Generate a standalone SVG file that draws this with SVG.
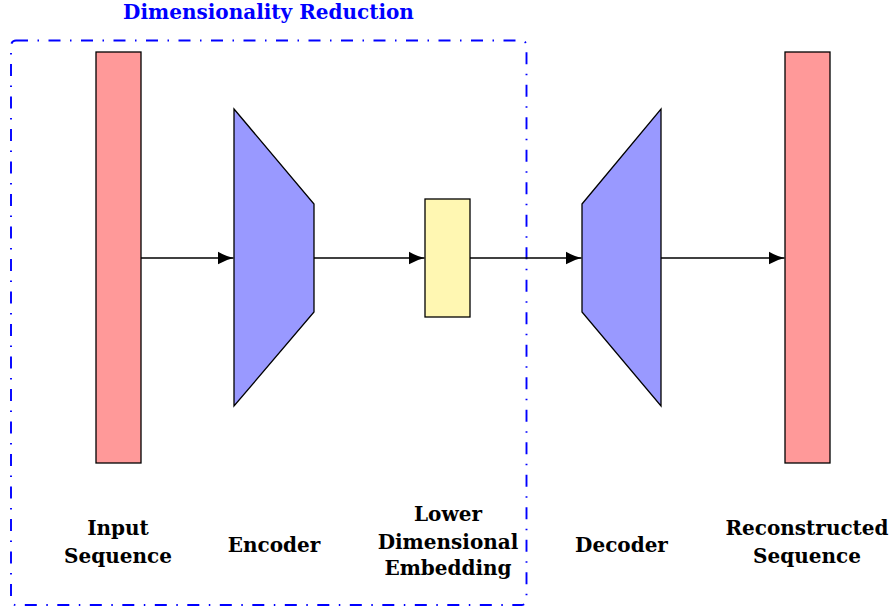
<svg xmlns="http://www.w3.org/2000/svg" width="891" height="610" viewBox="0 0 891 610">
<style>
.lbl{font-family:"DejaVu Serif","Liberation Serif",serif;font-weight:bold;font-size:20px;fill:#000;text-anchor:middle}
.title{font-family:"DejaVu Serif","Liberation Serif",serif;font-weight:bold;font-size:20px;fill:#0000ff;text-anchor:middle}
.blk{stroke:#000;stroke-width:1.3}
.conn{stroke:#000;stroke-width:1.3;fill:none}
</style>
<defs>
<marker id="arr" viewBox="0 0 16 14" refX="16" refY="7" markerWidth="16" markerHeight="14" markerUnits="userSpaceOnUse" orient="auto">
<path d="M0,0.5 Q8,5.2 16,7 Q8,8.8 0,13.5 Z" fill="#000"/>
</marker>
</defs>
<rect width="891" height="610" fill="#fff"/>
<g id="dimred">
<rect x="11" y="40.5" width="515.5" height="564.5" rx="5" fill="none" stroke="#0000ff" stroke-width="1.9" stroke-dasharray="12 9.5 1.5 9.5"/>
<text class="title" x="268.5" y="18.8">Dimensionality Reduction</text>
</g>
<g id="input">
<rect class="blk" x="96" y="52" width="45" height="411" fill="#ff9999"/>
<text class="lbl" x="118" y="535">Input</text>
<text class="lbl" x="118" y="563">Sequence</text>
</g>
<g id="encoder">
<polygon class="blk" points="234,109 314,204 314,312 234,406" fill="#9999ff"/>
<text class="lbl" x="274" y="552">Encoder</text>
</g>
<g id="embedding">
<rect class="blk" x="425" y="199" width="45" height="118" fill="#fff7b2"/>
<text class="lbl" x="448" y="521">Lower</text>
<text class="lbl" x="448" y="549">Dimensional</text>
<text class="lbl" x="448" y="575">Embedding</text>
</g>
<g id="decoder">
<polygon class="blk" points="582,204 661,109 661,406 582,312" fill="#9999ff"/>
<text class="lbl" x="621.5" y="552">Decoder</text>
</g>
<g id="output">
<rect class="blk" x="785" y="52" width="45" height="411" fill="#ff9999"/>
<text class="lbl" x="807" y="535">Reconstructed</text>
<text class="lbl" x="807" y="563">Sequence</text>
</g>
<g id="connectors">
<line class="conn" x1="141" y1="258" x2="233.5" y2="258" marker-end="url(#arr)"/>
<line class="conn" x1="314" y1="258" x2="424.5" y2="258" marker-end="url(#arr)"/>
<line class="conn" x1="470" y1="258" x2="581.5" y2="258" marker-end="url(#arr)"/>
<line class="conn" x1="661" y1="258" x2="784.5" y2="258" marker-end="url(#arr)"/>
</g>
</svg>
